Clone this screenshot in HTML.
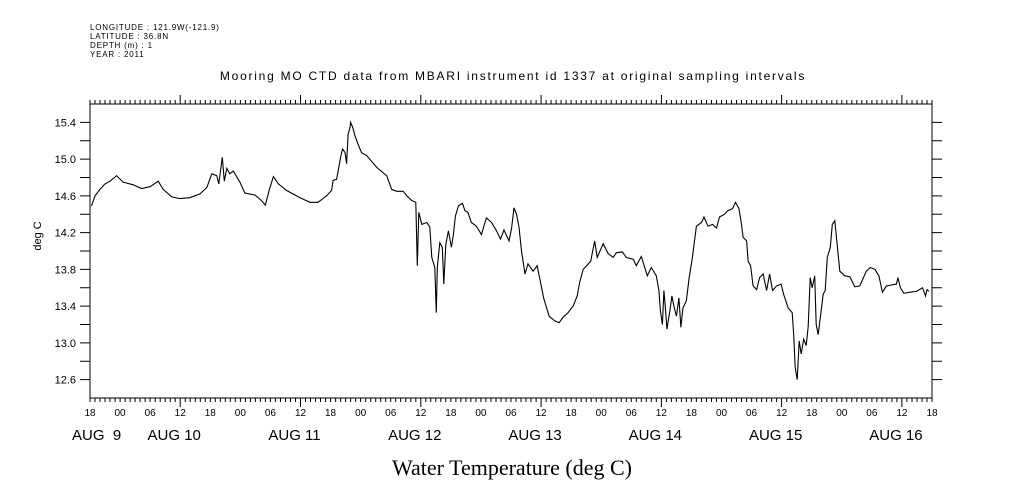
<!DOCTYPE html>
<html><head><meta charset="utf-8"><style>
body{margin:0;background:#fff;width:1009px;height:504px;overflow:hidden}
svg{display:block}
text{font-family:"Liberation Sans",sans-serif;fill:#000}
</style></head><body>
<svg id="chart" width="1009" height="504" viewBox="0 0 1009 504">
<g font-size="8" letter-spacing="0.8">
<text x="90" y="30">LONGITUDE : 121.9W(-121.9)</text>
<text x="90" y="39">LATITUDE : 36.8N</text>
<text x="90" y="48">DEPTH (m) : 1</text>
<text x="90" y="57">YEAR : 2011</text>
</g>
<text x="513" y="80" text-anchor="middle" font-size="12" letter-spacing="1.75">Mooring MO CTD data from MBARI instrument id 1337 at original sampling intervals</text>
<text transform="translate(41,236) rotate(-90)" text-anchor="middle" font-size="11">deg C</text>
<text x="512" y="475" text-anchor="middle" font-size="22" style="font-family:'Liberation Serif',serif">Water Temperature (deg C)</text>
<rect x="90" y="104" width="842" height="294" fill="none" stroke="#000" stroke-width="1"/>
<g id="axes"></g>
<g id="series"></g>
</svg>
<script>
const hours=[0.3,1.0,2.0,3.0,4.0,5.3,6.6,8.6,10.3,12.0,13.6,14.6,16.3,17.9,19.9,21.9,23.3,24.3,25.3,25.7,26.4,26.8,27.3,27.9,28.6,29.9,30.9,32.9,34.2,35.0,35.8,36.6,37.6,39.2,41.9,43.9,45.5,47.2,48.2,48.5,49.2,49.5,50.0,50.4,50.9,51.2,51.5,51.9,
52.0,52.4,52.9,53.5,54.2,55.2,57.2,59.2,60.2,61.2,62.5,63.2,64.2,65.0,65.3,65.6,66.2,67.2,67.8,68.2,68.8,69.1,69.3,69.8,70.3,70.6,71.0,71.5,72.1,72.5,72.9,73.5,74.3,74.8,75.4,76.1,77.1,78.1,79.1,80.1,81.1,81.9,82.6,83.6,84.1,84.6,85.1,85.6,86.1,86.8,87.4,88.4,89.2,89.7,90.5,91.6,92.7,93.6,94.4,95.4,96.4,97.2,97.7,98.4,99.1,99.9,100.7,101.2,102.4,103.4,104.4,105.0,106.2,107.0,108.4,109.0,110.0,111.2,
112.0,113.0,113.5,113.8,114.2,114.5,114.9,115.1,115.7,116.1,116.5,117.0,117.5,117.9,118.3,119.0,119.5,120.2,121.0,122.0,122.5,123.3,124.2,125.0,125.6,126.6,127.3,128.2,128.8,129.5,130.0,130.3,131.0,131.3,131.8,132.3,133.0,133.6,134.3,135.0,135.6,136.2,137.0,137.9,138.4,139.3,140.1,140.4,140.7,141.1,141.5,141.9,142.4,142.9,143.3,143.7,144.1,144.6,144.9,145.3,145.8,146.3,146.7,147.1,147.7,148.1,148.6,149.0,149.6,150.6,151.6,152.6,153.6,154.9,155.7,156.6,157.4,158.1,158.9,159.9,160.9,161.2,161.7,162.4,163.5,164.9,166.1,166.7,167.0,167.4];
const temps=[14.49,14.60,14.67,14.73,14.76,14.82,14.75,14.72,14.68,14.70,14.76,14.67,14.59,14.57,14.58,14.62,14.69,14.84,14.82,14.73,15.02,14.76,14.90,14.84,14.87,14.75,14.63,14.61,14.55,14.50,14.67,14.81,14.73,14.66,14.58,14.53,14.53,14.60,14.66,14.77,14.78,14.87,15.02,15.11,15.07,14.95,15.27,15.35,
15.40,15.35,15.25,15.16,15.07,15.04,14.91,14.82,14.67,14.65,14.65,14.60,14.55,14.53,13.84,14.42,14.29,14.31,14.26,13.93,13.82,13.33,13.82,14.09,14.04,13.64,14.07,14.22,14.04,14.18,14.38,14.49,14.52,14.44,14.42,14.31,14.27,14.18,14.36,14.31,14.22,14.13,14.23,14.11,14.24,14.47,14.40,14.26,14.00,13.75,13.86,13.78,13.84,13.71,13.49,13.29,13.24,13.22,13.28,13.33,13.40,13.51,13.66,13.80,13.84,13.89,14.11,13.93,14.08,13.97,13.93,13.98,13.99,13.93,13.91,13.84,13.94,13.73,
13.82,13.73,13.57,13.35,13.20,13.57,13.31,13.15,13.35,13.51,13.40,13.29,13.49,13.17,13.38,13.46,13.69,13.93,14.27,14.31,14.37,14.27,14.29,14.25,14.37,14.40,14.44,14.46,14.53,14.46,14.29,14.15,14.11,13.89,13.84,13.62,13.58,13.71,13.75,13.57,13.75,13.57,13.62,13.64,13.53,13.38,13.33,13.09,12.73,12.60,13.02,12.88,13.04,12.97,13.18,13.71,13.60,13.73,13.20,13.09,13.31,13.53,13.57,13.93,14.04,14.29,14.33,14.11,13.78,13.73,13.72,13.61,13.62,13.78,13.82,13.80,13.73,13.55,13.62,13.63,13.64,13.71,13.60,13.54,13.55,13.56,13.60,13.51,13.58,13.56];
const yTicks=[12.6,13.0,13.4,13.8,14.2,14.6,15.0,15.4];
const hourLabels=["18","00","06","12"];
const dayLabels=["AUG  9","AUG 10","AUG 11","AUG 12","AUG 13","AUG 14","AUG 15","AUG 16"];
const L=90,R=932,T=104,B=398,H0=0,H1=168,V0=12.4,V1=15.6;
function xs(h){return L+(h-H0)/(H1-H0)*(R-L);}
function ys(v){return B-(v-V0)/(V1-V0)*(B-T);}
const NS="http://www.w3.org/2000/svg";
const ax=document.getElementById('axes');
function mk(tag,at,parent){const e=document.createElementNS(NS,tag);for(const k in at)e.setAttribute(k,at[k]);parent.appendChild(e);return e;}
let d="";
for(let h=0;h<=168;h++){const x=xs(h).toFixed(1);const major=((h+6)%24===0);const len=major?9:4;d+=`M${x} ${T}V${T-len}M${x} ${B}V${B+len}`;}
for(let i=0;i<=14;i++){const v=12.6+i*0.2;const y=ys(v).toFixed(1);d+=`M${L} ${y}H${L-10}M${R} ${y}H${R+10}`;}
const tk=mk('path',{d:d,stroke:'#000','stroke-width':1,fill:'none'},ax);


yTicks.forEach(v=>{const t=mk('text',{x:76,y:ys(v)+4,'text-anchor':'end','font-size':11},ax);t.textContent=v.toFixed(1);

});
for(let h=0;h<=168;h+=6){const t=mk('text',{x:xs(h),y:416,'text-anchor':'middle','font-size':10},ax);t.textContent=hourLabels[(h/6)%4];

}
dayLabels.forEach((s,i)=>{let x=i===0?72:xs(24*i-6)-6;const t=mk('text',{x:x,y:440,'text-anchor':i===0?'start':'middle','font-size':15},ax);t.textContent=s;t.style.whiteSpace='pre';

});
let p="";hours.forEach((h,i)=>{p+=(i?"L":"M")+xs(h).toFixed(1)+" "+ys(temps[i]).toFixed(1);});
const ln=mk('path',{d:p,stroke:'#000','stroke-width':1.1,fill:'none'},document.getElementById('series'));


</script>
</body></html>
